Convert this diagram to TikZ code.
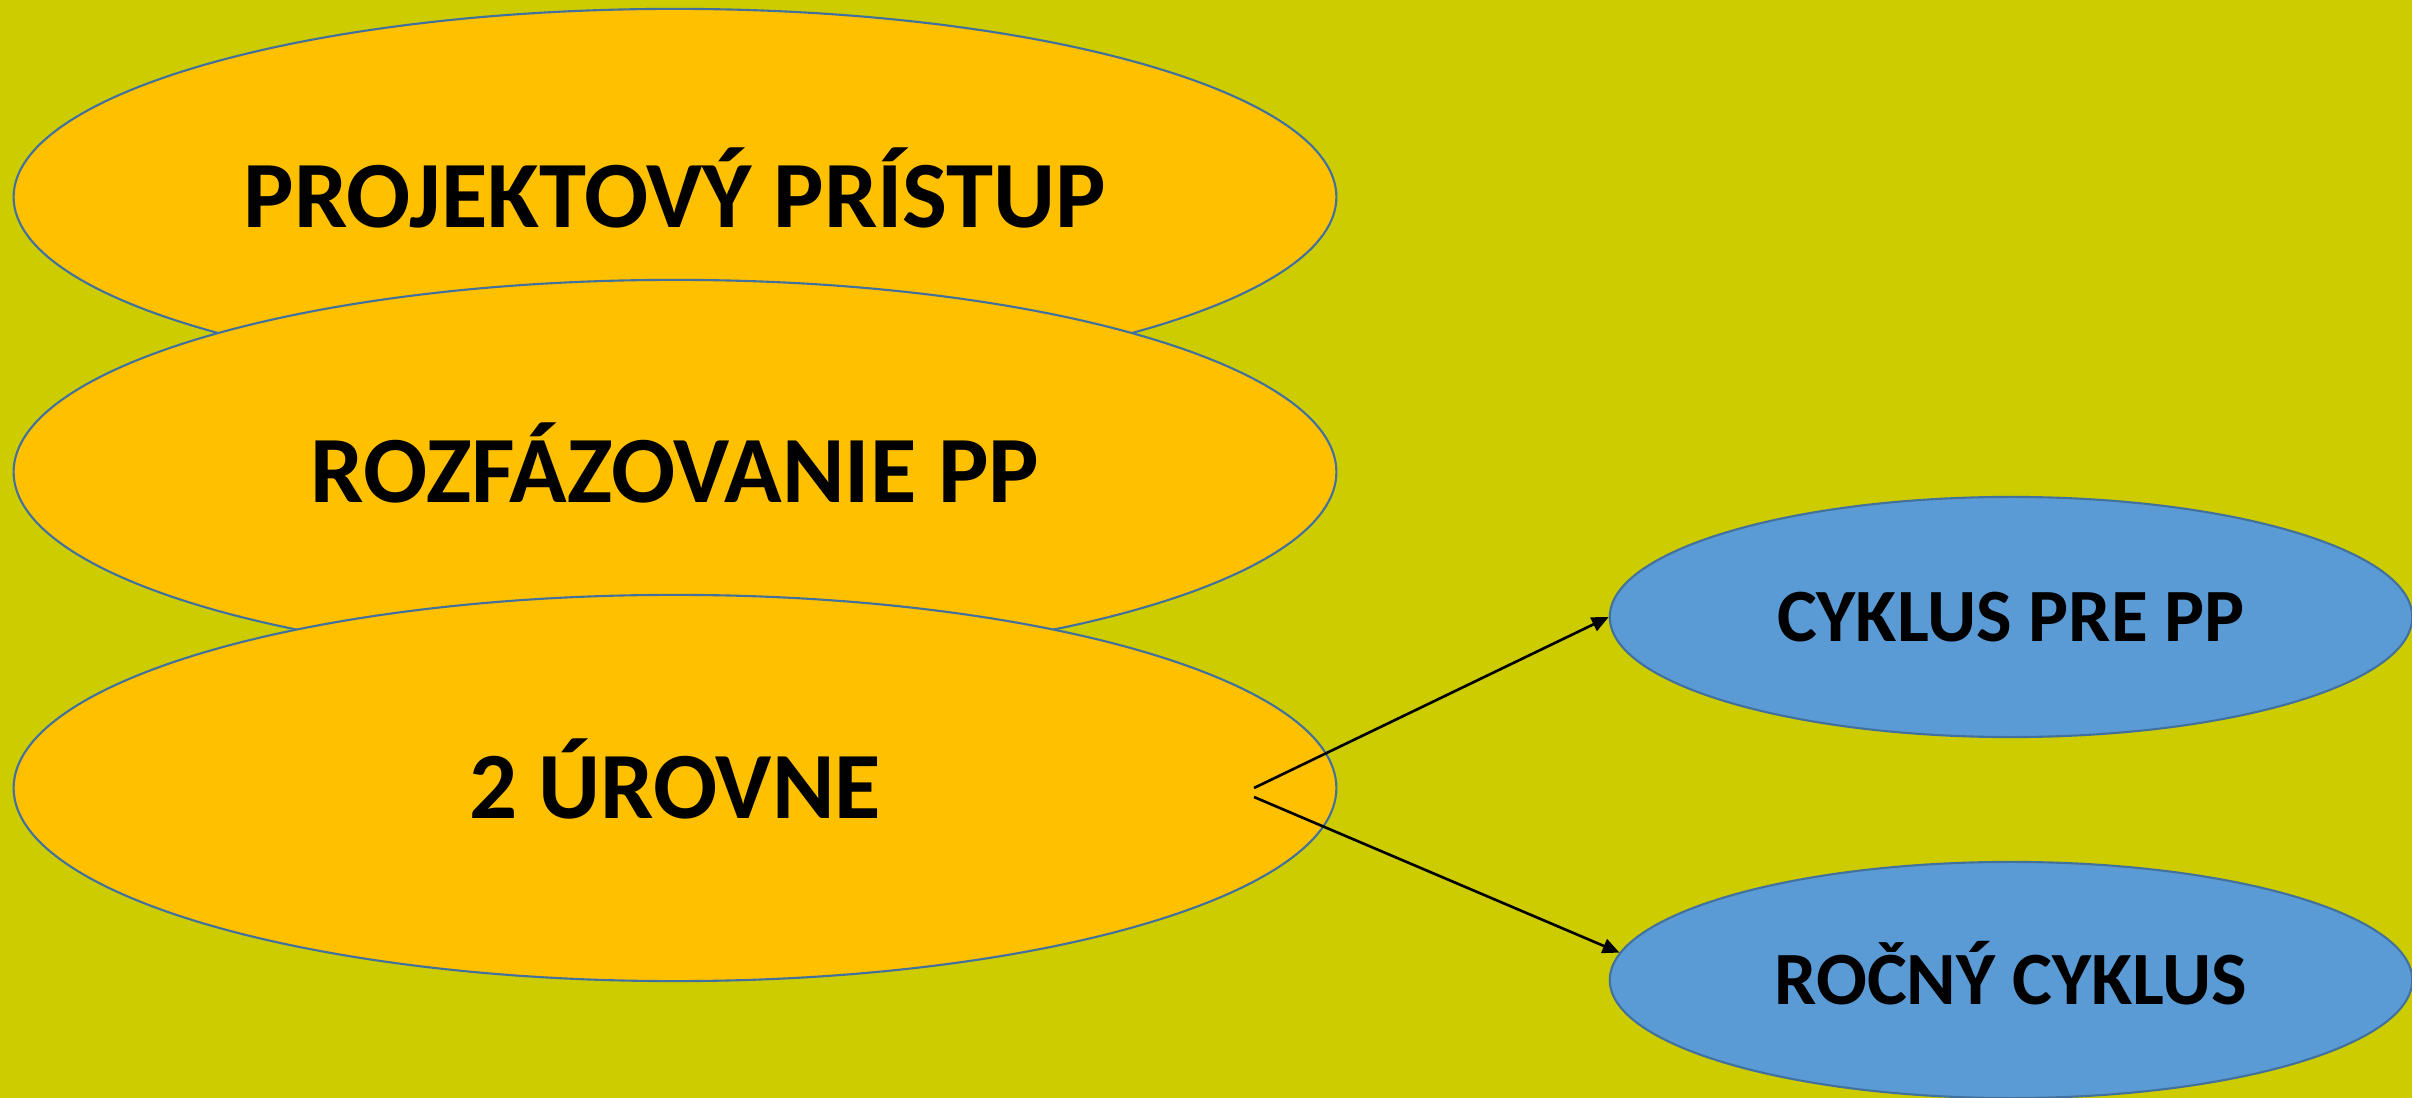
\documentclass[tikz,border=0pt]{standalone}
\usepackage{fontspec}
\setmainfont{Carlito}
\usetikzlibrary{shapes.geometric,arrows.meta}
\definecolor{bgcol}{RGB}{204,204,0}
\definecolor{orangefill}{RGB}{255,192,0}
\definecolor{bluefill}{RGB}{91,155,213}
\definecolor{edgecol}{RGB}{65,113,156}
\tikzset{
  bigell/.style={ellipse, draw=edgecol, fill=orangefill, line width=0.6pt,
    minimum width=13.22cm, font=\fontsize{27pt}{30pt}\selectfont\bfseries,
    text height=17.4pt, text depth=0pt, inner sep=2pt},
  smallell/.style={ellipse, draw=edgecol, fill=bluefill, line width=0.6pt,
    minimum width=8.02cm, minimum height=2.40cm, font=\fontsize{21.4pt}{24pt}\selectfont\bfseries,
    text height=13.8pt, text depth=0pt, inner sep=2pt},
  arr/.style={-{Triangle[length=4.8pt,width=4.2pt]}, line width=0.75pt, black}
}
\begin{document}
\begin{tikzpicture}[x=0.01cm,y=-0.01cm]
\fill[bgcol] (0,0) rectangle (2412,1098);
\useasboundingbox (0,0) rectangle (2412,1098);
\node[bigell, minimum height=3.76cm] (e1) at (675,197) {PROJEKTOVÝ PRÍSTUP};
\node[bigell, minimum height=3.84cm] (e2) at (675,472) {ROZFÁZOVANIE PP};
\node[bigell, minimum height=3.86cm] (e3) at (675,788) {2 ÚROVNE};
\node[smallell] (b1) at (2011,617) {CYKLUS PRE PP};
\node[smallell, minimum height=2.36cm] (b2) at (2011,980) {ROČNÝ CYKLUS};
\coordinate (s1) at (1254,788);
\coordinate (s2) at (1254,797);
\draw[arr] (s1) -- (b1.west);
\draw[arr] (s2) -- (b2.176);
\end{tikzpicture}
\end{document}
